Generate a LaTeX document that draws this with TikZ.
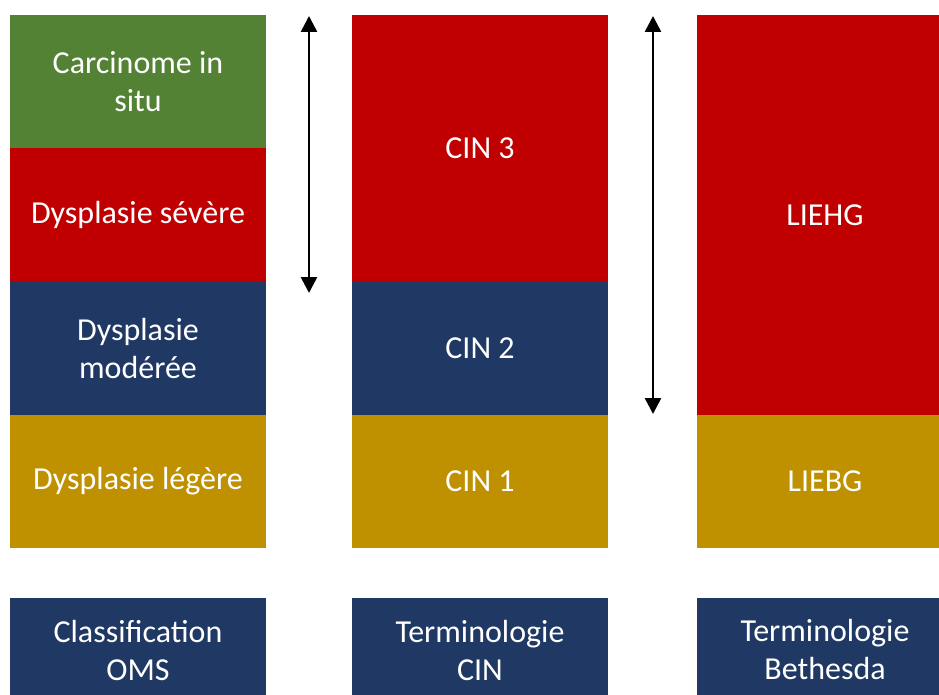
\documentclass[tikz,border=0pt]{standalone}
\usepackage{fontspec}
\setmainfont{Carlito}
\usetikzlibrary{arrows.meta}
\definecolor{cgreen}{HTML}{548235}
\definecolor{cred}{HTML}{C00000}
\definecolor{cnavy}{HTML}{203864}
\definecolor{cgold}{HTML}{BF9000}
\tikzset{
  cell/.style={rectangle, inner sep=0pt, minimum width=256pt, text=white, align=center,
    font=\fontsize{32}{38}\selectfont},
  dbl/.style={{Triangle[width=16pt,length=16pt]}-{Triangle[width=16pt,length=16pt]}, line width=2.6pt, black}
}
\begin{document}
\begin{tikzpicture}[x=1pt,y=-1pt]
\useasboundingbox (0,0) rectangle (939,695);
% column 1
\node[cell, fill=cgreen, minimum height=133pt] (c1a) at (138,81.5) {Carcinome in\\situ};
\node[cell, fill=cred, minimum height=133.5pt] (c1b) at (138,214.5) {Dysplasie sévère};
\node[cell, fill=cnavy, minimum height=134pt] (c1c) at (138,348) {Dysplasie\\modérée};
\node[cell, fill=cgold, minimum height=133.5pt] (c1d) at (138,481.5) {Dysplasie légère};
% column 2
\node[cell, fill=cred, minimum height=266.5pt] (c2a) at (480,148) {CIN 3};
\node[cell, fill=cnavy, minimum height=134pt] (c2b) at (480,348) {CIN 2};
\node[cell, fill=cgold, minimum height=133.5pt] (c2c) at (480,481.5) {CIN 1};
% column 3
\node[cell, fill=cred, minimum height=400pt] (c3a) at (825,215) {LIEHG};
\node[cell, fill=cgold, minimum height=133.5pt] (c3b) at (825,481.5) {LIEBG};
% bottom labels
\node[cell, fill=cnavy, minimum height=104pt] (l1) at (138,650) {Classification\\OMS};
\node[cell, fill=cnavy, minimum height=104pt] (l2) at (480,650) {Terminologie\\CIN};
\node[cell, fill=cnavy, minimum height=104pt] (l3) at (825,650) {Terminologie\\Bethesda};
% arrows
\coordinate (a1t) at (309,16);
\coordinate (a1b) at (309,293);
\coordinate (a2t) at (653,16);
\coordinate (a2b) at (653,414);
\draw[dbl] (a1t) -- (a1b);
\draw[dbl] (a2t) -- (a2b);
\end{tikzpicture}
\end{document}
